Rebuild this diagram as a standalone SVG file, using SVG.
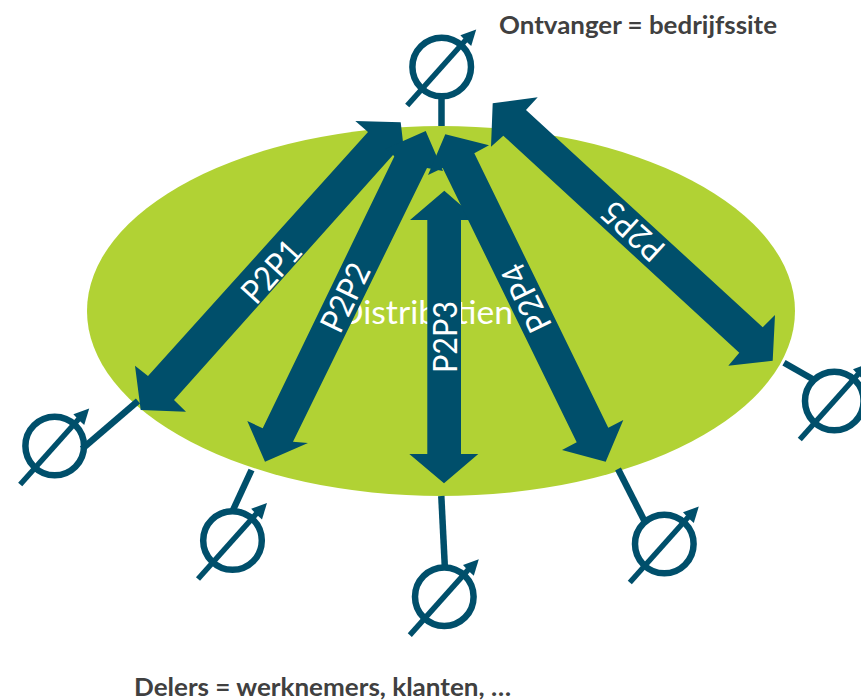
<svg xmlns="http://www.w3.org/2000/svg" width="861" height="700" viewBox="0 0 861 700">
<style>
.a{fill:#004f6b}
.s{stroke:#004f6b;stroke-width:6.500;fill:none}
.c{stroke:#004f6b;stroke-width:6.500;fill:none}
.d{stroke:#004f6b;stroke-width:5.500;fill:none}
.l{fill:#fff;font-family:Lato,"Liberation Sans",sans-serif;font-size:33px;text-anchor:middle}
.t{fill:#404040;font-family:Lato,"Liberation Sans",sans-serif;font-weight:700;font-size:24px}
</style>
<defs>
<g id="sym">
<circle class="c" cx="0" cy="0" r="29.300"/>
<path class="d" d="M-34.500 38.500L24 -27"/>
<path class="a" d="M34.500 -37.500L29.500 -21L23.500 -26.500L18.700 -31.700Z"/>
</g>
</defs>
<rect width="861" height="700" fill="#fff"/>
<g id="cloud">
<ellipse cx="441" cy="311" rx="354" ry="185" fill="#b1d234"/>
<text x="338" y="324" fill="#fff" font-family="Lato,'Liberation Sans',sans-serif" font-size="33" textLength="175" lengthAdjust="spacingAndGlyphs">Distributien</text>
</g>
<g id="connectors">
<path class="s" d="M441.500 96V126"/>
<path class="s" d="M138 401L82 449"/>
<path class="s" d="M251.500 470L233 510"/>
<path class="s" d="M441.300 496L444.800 566"/>
<path class="s" d="M618 469L645 522"/>
<path class="s" d="M784 362.700L816 381"/>
<polygon id="p1" class="a" points="400.700,122.300 355.300,121 368,132 148,376 135,365.700 140.700,410 186,411.700 174,400 393,155 406,168"/>
<polygon id="p2" class="a" points="425.700,131 385,149 395,155 262.700,428.300 247.300,421 265,461.700 308,443 293,441.700 427,168 443,171"/>
<polygon id="p3" class="a" points="444.300,190.700 410,220 427.300,220 427.300,454 409.300,454 444,483.300 478.300,454 461,454 461,220 478,220"/>
<polygon id="p4" class="a" points="445.300,134.300 428,175 442.700,168 576.700,442.300 562,450 605.700,461.700 623.300,420 608.300,427.700 474.300,153.300 489,145.300"/>
<polygon id="p5" class="a" points="492.700,103.300 537.700,97.300 526,110 762.700,327.300 775,315 772.700,360.700 728.300,365.700 739.300,352.700 503.300,135.700 491,146.700"/>
</g>
<g id="labels">
<text class="l" transform="translate(271.500 271.500) rotate(-48) translate(0 11.500)" textLength="72" lengthAdjust="spacingAndGlyphs">P2P1</text>
<text class="l" transform="translate(345.500 297.500) rotate(-64) translate(0 11.500)" textLength="72" lengthAdjust="spacingAndGlyphs">P2P2</text>
<text class="l" transform="translate(445 337) rotate(-90) translate(0 11.500)" textLength="72" lengthAdjust="spacingAndGlyphs">P2P3</text>
<text class="l" transform="translate(526.500 298) rotate(-116) translate(0 11.500)" textLength="72" lengthAdjust="spacingAndGlyphs">P2P4</text>
<text class="l" transform="translate(633 231) rotate(-137.500) translate(0 11.500)" textLength="72" lengthAdjust="spacingAndGlyphs">P2P5</text>
</g>
<g id="n0"><use href="#sym" x="441.700" y="67"/></g>
<g id="n1"><use href="#sym" x="54.700" y="446"/></g>
<g id="n2"><use href="#sym" x="232.500" y="540.500"/></g>
<g id="n3"><use href="#sym" x="444.300" y="596.700"/></g>
<g id="n4"><use href="#sym" x="664.300" y="544"/></g>
<g id="n5"><use href="#sym" x="834.300" y="401"/></g>
<text class="t" x="499" y="34" textLength="278" lengthAdjust="spacingAndGlyphs">Ontvanger = bedrijfssite</text>
<text class="t" x="134" y="696" textLength="377" lengthAdjust="spacingAndGlyphs">Delers = werknemers, klanten, …</text>
</svg>
